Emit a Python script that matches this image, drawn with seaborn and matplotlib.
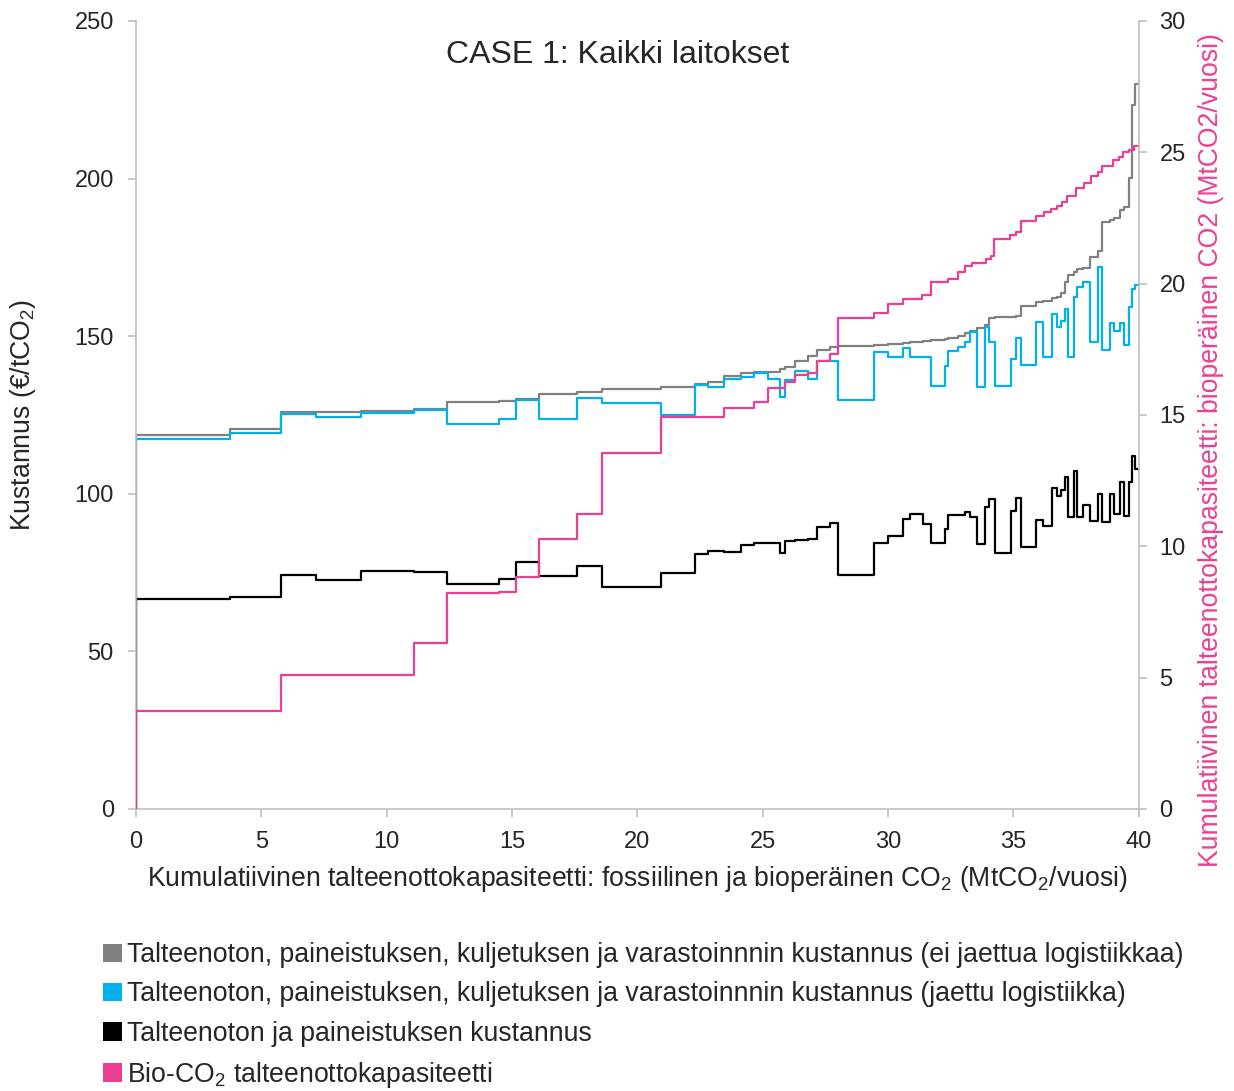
import numpy as np
import pandas as pd
import matplotlib
matplotlib.use("Agg")
import matplotlib.pyplot as plt
from matplotlib.patches import Patch
import seaborn as sns

# ---------------- data ----------------
cost_x = [0, 3.75, 5.78, 7.2, 8.97, 11.1, 12.39, 14.48, 15.14, 16.08, 17.6, 18.6,
          20.96, 22.3, 22.8, 23.45, 24.15, 24.66, 25.2, 25.7, 25.9, 26.3, 26.8, 27.15,
          27.7, 28.0, 29.42, 30.0, 30.6, 30.87, 31.4, 31.73, 32.26, 32.4, 32.79, 33.06,
          33.26, 33.55, 33.86, 34.03, 34.26, 34.92, 35.12, 35.32, 35.92, 36.18, 36.56,
          36.72, 36.88, 37.05, 37.18, 37.41, 37.52, 37.78, 38.07, 38.38, 38.54, 38.84,
          39.0, 39.27, 39.4, 39.61, 39.75, 39.87]

gray_cost = [118.7, 120.4, 125.8, 126.0, 126.1, 127.0, 129.1, 129.4, 130.2, 131.7, 132.2, 133.2,
             133.9, 134.7, 135.3, 137.5, 138.2, 138.6, 138.6, 139.5, 140.1, 142.1, 143.8, 145.6,
             146.7, 147.0, 147.2, 147.4, 147.9, 148.1, 148.4, 148.8, 149.2, 149.5, 150.0, 150.9,
             151.6, 152.7, 153.4, 155.9, 156.0, 156.2, 156.4, 159.7, 160.7, 161.0, 162.0,
             162.3, 163.8, 167.3, 169.4, 170.5, 171.3, 171.5, 175.2, 177.0, 186.3, 187.0,
             187.4, 190.0, 191.1, 200.1, 223.3, 230.0]

blue_cost = [117.4, 119.2, 125.2, 124.5, 125.5, 126.6, 122.0, 123.7, 129.9, 123.6, 130.5, 128.7,
             124.9, 134.5, 133.9, 136.4, 137.2, 138.2, 136.4, 130.8, 136.1, 139.1, 136.3, 142.2,
             142.2, 129.8, 145.1, 143.5, 146.3, 143.5, 143.5, 134.2, 140.5, 145.4, 146.5, 148.3,
             151.4, 133.8, 153.0, 148.3, 134.2, 142.6, 149.3, 140.7, 154.5, 143.5, 156.9,
             152.8, 154.8, 158.6, 143.5, 162.5, 165.7, 167.3, 148.0, 172.0, 145.6, 154.1,
             151.7, 154.2, 147.2, 159.2, 164.9, 166.2]

black_cost = [66.6, 67.1, 74.2, 72.7, 75.5, 75.3, 71.3, 73.1, 78.3, 73.9, 77.2, 70.3,
              74.8, 80.8, 81.7, 81.6, 83.9, 84.4, 84.4, 81.1, 85.1, 85.3, 85.7, 89.4,
              90.8, 74.2, 84.5, 86.6, 92.0, 93.6, 90.4, 84.5, 88.7, 93.2, 93.4, 94.1,
              92.7, 84.0, 95.9, 98.3, 81.3, 94.6, 98.6, 83.2, 91.7, 89.9, 101.7,
              99.3, 101.2, 105.4, 92.7, 107.3, 92.6, 96.4, 91.5, 99.9, 91.2, 99.9,
              93.6, 103.8, 93.0, 103.8, 112.0, 107.8]

bio_x = [0, 5.78, 11.1, 12.39, 14.48, 15.14, 16.08, 17.6, 18.6, 20.96, 23.45, 24.66, 25.2,
         25.9, 26.3, 26.8, 27.15, 27.7, 28.0, 29.42, 30.0, 30.6, 31.37, 31.7, 32.4, 32.8,
         33.06, 33.33, 33.9, 34.1, 34.23, 34.88, 35.1, 35.32, 35.92, 36.21, 36.52, 36.72,
         36.92, 37.14, 37.51, 37.8, 38.1, 38.38, 38.55, 38.98, 39.2, 39.37, 39.6, 39.8]
bio_cap = [3.74, 5.10, 6.31, 8.23, 8.25, 8.84, 10.27, 11.24, 13.56, 14.91, 15.28, 15.51, 16.04,
           16.27, 16.53, 16.61, 17.07, 17.32, 18.70, 18.89, 19.21, 19.43, 19.55, 20.06, 20.19, 20.45,
           20.67, 20.78, 20.94, 21.05, 21.70, 21.85, 21.97, 22.38, 22.59, 22.71, 22.84, 22.97,
           23.12, 23.35, 23.65, 23.84, 24.11, 24.26, 24.48, 24.70, 24.83, 25.02, 25.08, 25.25]

x_max = 40
left_ticks = [0, 50, 100, 150, 200, 250]
right_ticks = [0, 5, 10, 15, 20, 25, 30]
bottom_ticks = [0, 5, 10, 15, 20, 25, 30, 35, 40]

labels = ["Talteenoton, paineistuksen, kuljetuksen ja varastoinnnin kustannus (ei jaettua logistiikkaa)",
          "Talteenoton, paineistuksen, kuljetuksen ja varastoinnnin kustannus (jaettu logistiikka)",
          "Talteenoton ja paineistuksen kustannus",
          "Bio-CO$_2$ talteenottokapasiteetti"]
colors = ["#808080", "#00B0F0", "#000000", "#EC3F94"]

# ---------------- style ----------------
sns.set_style("white")
plt.rcParams["font.family"] = ["Liberation Sans", "DejaVu Sans"]
plt.rcParams["mathtext.fontset"] = "custom"
plt.rcParams["mathtext.rm"] = "Liberation Sans"
plt.rcParams["mathtext.it"] = "Liberation Sans:italic"
plt.rcParams["mathtext.default"] = "regular"


def step_frame(xs, ys):
    return pd.DataFrame({"x": [xs[0]] + list(xs) + [x_max],
                         "y": [0] + list(ys) + [ys[-1]]})


fig = plt.figure(figsize=(12.34, 10.91), dpi=100)
ax = fig.add_axes([0.1102, 0.2585, 0.8126, 0.7223])
ax2 = ax.twinx()

for vals, col in zip([gray_cost, blue_cost, black_cost], colors[:3]):
    d = step_frame(cost_x, vals)
    sns.lineplot(data=d, x="x", y="y", ax=ax, color=col, lw=1.6,
                 estimator=None, sort=False, drawstyle="steps-post", legend=False)

d = step_frame(bio_x, bio_cap)
sns.lineplot(data=d, x="x", y="y", ax=ax2, color=colors[3], lw=1.6,
             estimator=None, sort=False, drawstyle="steps-post", legend=False)

tick_fs = 17
lab_fs = 19.2
ax.set_xlim(0, x_max)
ax.set_ylim(0, 250)
ax2.set_ylim(0, 30)
ax.set_xticks(bottom_ticks)
ax.set_yticks(left_ticks)
ax2.set_yticks(right_ticks)

spine_c = "#BFBFBF"
for a in (ax, ax2):
    for s in a.spines.values():
        s.set_color(spine_c)
        s.set_linewidth(1.2)
    a.spines["top"].set_visible(False)
ax.spines["right"].set_visible(False)
ax2.spines["left"].set_visible(False)
ax2.spines["bottom"].set_visible(False)

ax.tick_params(axis="both", which="both", direction="out", length=6, width=1.2,
               color=spine_c, labelsize=tick_fs, pad=10, left=True, bottom=True)
ax2.tick_params(axis="y", direction="out", length=6, width=1.2, color=spine_c,
                labelsize=tick_fs, pad=9, right=True)

ax.set_xlabel("Kumulatiivinen talteenottokapasiteetti: fossiilinen ja bioperäinen CO$_2$ (MtCO$_2$/vuosi)",
              fontsize=lab_fs, labelpad=8)
ax.set_ylabel("Kustannus (€/tCO$_2$)", fontsize=lab_fs, labelpad=26)
ax2.set_ylabel("Kumulatiivinen talteenottokapasiteetti: bioperäinen CO2 (MtCO2/vuosi)",
               fontsize=lab_fs, color=colors[3], labelpad=9)
ax2.yaxis.label.set_y(0.456)

ax.text(0.48, 0.957, "CASE 1: Kaikki laitokset", transform=ax.transAxes,
        ha="center", va="center", fontsize=23)

handles = [Patch(facecolor=c, edgecolor="none") for c in colors]
fig.legend(handles, labels, loc="upper left", bbox_to_anchor=(0.0835, 0.1362),
           frameon=False, fontsize=lab_fs, handlelength=0.7, handleheight=0.7,
           handletextpad=0.2, labelspacing=0.49, borderaxespad=0, borderpad=0)

fig.savefig("out.png", dpi=100)
